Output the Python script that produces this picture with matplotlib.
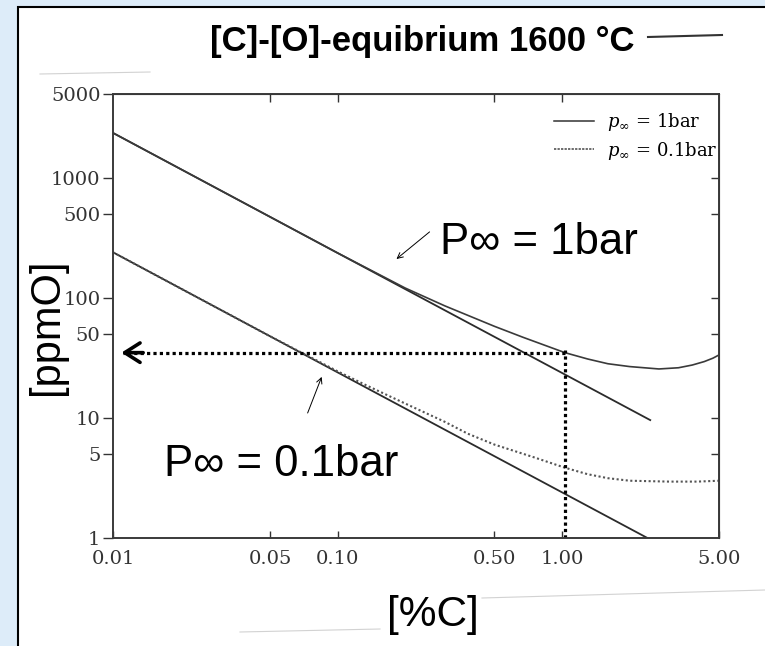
#[C]-[O] equilibrium at 1600 °C (scanned slide)

import matplotlib.pyplot as plt
from matplotlib.patches import Rectangle
from matplotlib.lines import Line2D

#Valores leídos del gráfico
# straight lines (ideal C*O product)
c_line_1bar = [0.01, 2.47]
o_line_1bar = [2370, 9.6]
c_line_01 = [0.01, 2.4]
o_line_01 = [240, 1.0]

# real curve p = 1 bar
c_1bar = [0.01, 0.05, 0.1, 0.155, 0.2, 0.3, 0.5, 0.67, 1.03, 1.3, 1.6, 2.0, 2.7, 3.3, 3.8, 4.3, 4.7, 5.0]
o_1bar = [2370, 474, 237, 155, 121, 86, 58, 47, 35, 31, 28.3, 26.8, 25.6, 26.2, 27.6, 29.5, 31.5, 33.5]

# real curve p = 0.1 bar
c_01 = [0.01, 0.05, 0.1, 0.136, 0.2, 0.3, 0.38, 0.5, 0.75, 1.03, 1.3, 1.6, 2.0, 3.0, 4.0, 5.0]
o_01 = [240, 48, 24.5, 18.5, 13.2, 9.3, 7.4, 6.0, 4.7, 3.85, 3.4, 3.15, 3.0, 2.95, 2.95, 3.0]

# reading at 1 %C
c_read = 1.03
o_read = 35
c_arrow_end = 0.0109

x_ticks = [0.01, 0.05, 0.1, 0.5, 1.0, 5.0]
x_labels = ['0.01', '0.05', '0.10', '0.50', '1.00', '5.00']
y_ticks = [1, 5, 10, 50, 100, 500, 1000, 5000]
y_labels = ['1', '5', '10', '50', '100', '500', '1000', '5000']

sans = ['Liberation Sans', 'DejaVu Sans']
plt.rcParams['mathtext.fontset'] = 'dejavuserif'

W, H = 765, 646
fig = plt.figure(figsize=(W / 100, H / 100), dpi=100, facecolor='#ddecf9')

# white slide panel
fig.add_artist(Rectangle((18 / W, -0.01), 1.0, 1 - 7 / H + 0.01, transform=fig.transFigure,
                         facecolor='white', edgecolor='black', lw=1.5, zorder=0))
# faint scan edges
for xs, ys in [([40, 150], [74, 72]), ([482, 765], [598, 590]), ([240, 380], [632, 629])]:
    fig.add_artist(Line2D([x / W for x in xs], [1 - y / H for y in ys],
                          transform=fig.transFigure, color='#d2d2d2', lw=0.8))

ax = fig.add_axes([113 / W, 1 - 538 / H, (719 - 113) / W, (538 - 94) / H])
ax.set_xscale('log')
ax.set_yscale('log')
ax.set_xlim(0.01, 5)
ax.set_ylim(1, 5000)
ax.set_facecolor('none')

#Curvas
ax.plot(c_line_1bar, o_line_1bar, color='#2b2b2b', lw=1.3)
ax.plot(c_line_01, o_line_01, color='#2b2b2b', lw=1.3)
ax.plot(c_1bar, o_1bar, color='#3a3a3a', lw=1.2)
ax.plot(c_01, o_01, color='#555555', lw=1.5, ls=(0, (1, 1.2)))

#Lectura a 1 %C
ax.plot([c_read, c_arrow_end * 1.02], [o_read, o_read], color='black', lw=2.3,
        ls=(0, (1, 1)), dash_capstyle='butt')
ax.plot([c_read, c_read], [1, o_read * 1.06], color='black', lw=2.3,
        ls=(0, (1, 1)), dash_capstyle='butt')
ax.annotate('', xy=(c_arrow_end, o_read), xytext=(c_arrow_end * 1.25, o_read),
            arrowprops=dict(arrowstyle='->,head_length=0.55,head_width=0.35',
                            lw=2.6, color='black', mutation_scale=20,
                            shrinkA=0, shrinkB=0))

#Anotaciones
ax.annotate('', xy=(0.183, 211), xytext=(0.257, 355),
            arrowprops=dict(arrowstyle='->', lw=0.7, color='black', shrinkA=0, shrinkB=0))
ax.text(0.287, 287, 'P∞ = 1bar', fontsize=31.5, family=sans, ha='left', va='center')
ax.annotate('', xy=(0.085, 22), xytext=(0.0736, 11),
            arrowprops=dict(arrowstyle='->', lw=0.7, color='black', shrinkA=0, shrinkB=0))
ax.text(0.01686, 4.06, 'P∞ = 0.1bar', fontsize=31.5, family=sans, ha='left', va='center')

#Ejes
ax.set_xticks(x_ticks)
ax.set_xticklabels(x_labels)
ax.set_yticks(y_ticks)
ax.set_yticklabels(y_labels)
ax.minorticks_off()
ax.tick_params(axis='y', direction='out', length=7, width=1, colors='#333333',
               labelsize=14, pad=2)
ax.tick_params(axis='x', direction='in', length=5, width=1, colors='#333333',
               labelsize=14, pad=9)
for lab in ax.get_xticklabels() + ax.get_yticklabels():
    lab.set_family('DejaVu Serif')
for sp in ax.spines.values():
    sp.set_color('#3a3a3a')
    sp.set_linewidth(1.4)

secx = ax.secondary_xaxis('top')
secx.set_xticks(x_ticks[1:-1])
secx.set_xticklabels([])
secx.minorticks_off()
secx.tick_params(direction='in', length=6, width=1, colors='#333333')
secy = ax.secondary_yaxis('right')
secy.set_yticks(y_ticks[1:-1])
secy.set_yticklabels([])
secy.minorticks_off()
secy.tick_params(direction='in', length=6, width=1, colors='#333333')

handles = [Line2D([], [], color='#333333', lw=1.1),
           Line2D([], [], color='#444444', lw=1.1, ls=(0, (1.5, 0.8)))]
labels = [r'$p_\infty$ = 1bar', r'$p_\infty$ = 0.1bar']
ax.legend(handles, labels, loc='upper right', bbox_to_anchor=(1.015, 0.985),
          frameon=False, prop={'family': 'DejaVu Serif', 'size': 13},
          handlelength=2.2, handletextpad=0.7, labelspacing=0.35, borderaxespad=0.2)

#Títulos
fig.text(422 / W, 1 - 42 / H, '[C]-[O]-equibrium 1600 °C', fontsize=25,
         fontweight='bold', family=sans, ha='center', va='center')
fig.add_artist(Line2D([648 / W, 722 / W], [1 - 37 / H, 1 - 35 / H],
                      transform=fig.transFigure, color='#333333', lw=1.5))
fig.text(47 / W, 1 - 327 / H, '[ppmO]', fontsize=30, family=sans, rotation=90,
         ha='center', va='center')
fig.text(433 / W, 1 - 615 / H, '[%C]', fontsize=30.5, family=sans, ha='center', va='center')

plt.savefig('out.png', dpi=100, facecolor=fig.get_facecolor())
